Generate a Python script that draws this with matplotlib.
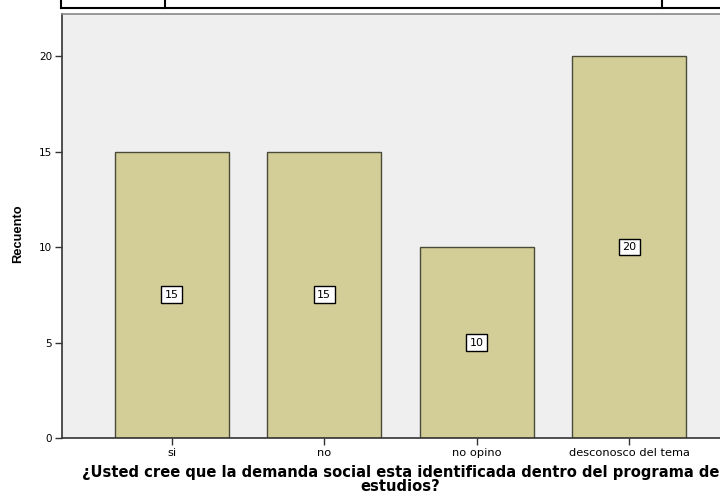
import matplotlib
matplotlib.use("Agg")
import matplotlib.pyplot as plt
from matplotlib.lines import Line2D

categories = ["si", "no", "no opino", "desconosco del tema"]
counts = [15, 15, 10, 20]
yticks = [0, 5, 10, 15, 20]

plt.rcParams['font.family'] = ['DejaVu Sans']

W, H = 720, 497
fig = plt.figure(figsize=(7.2, 4.97), dpi=100)
fig.patch.set_facecolor('white')

x0, x1 = 62, 739
ytop, ybot = 14, 438
ax = fig.add_axes([x0 / W, 1 - ybot / H, (x1 - x0) / W, (ybot - ytop) / H])
ax.set_facecolor('#EFEFEF')

pos = list(range(len(categories)))
ax.bar(pos, counts, width=0.75, color='#D3CE97', edgecolor='#4A4A3A', linewidth=1.0, zorder=2)
for p, c in zip(pos, counts):
    ax.text(p, c / 2, str(c), ha='center', va='center', fontsize=8, zorder=3,
            bbox=dict(boxstyle='square,pad=0.3', facecolor='white', edgecolor='black', linewidth=1.0))

ax.set_xlim(-0.72, len(categories) - 1 + 0.72)
ax.set_ylim(0, 22.2)
ax.set_yticks(yticks)
ax.set_yticklabels([str(v) for v in yticks], fontsize=7.5)
ax.set_xticks(pos)
ax.set_xticklabels(categories, fontsize=8.2)
ax.tick_params(axis='y', length=5, width=1, color='#333333', pad=2)
ax.tick_params(axis='x', length=5, width=1, color='#333333', pad=2)

for s in ['left', 'bottom']:
    ax.spines[s].set_color('#333333')
    ax.spines[s].set_linewidth(1.2)
for s in ['top', 'right']:
    ax.spines[s].set_color('#888888')
    ax.spines[s].set_linewidth(1.2)

ax.set_ylabel('Recuento', fontsize=9.3, fontweight='bold', family='Liberation Sans')
ax.yaxis.set_label_coords(-0.056, 0.483)
ax.set_xlabel('¿Usted cree que la demanda social esta identificada dentro del programa de\nestudios?',
              fontsize=10.6, fontweight='bold', labelpad=5, linespacing=0.95)

# decorative table lines at the top
def fl(xa, ya, xb, yb):
    fig.add_artist(Line2D([xa / W, xb / W], [1 - ya / H, 1 - yb / H], color='black', linewidth=1.5,
                          transform=fig.transFigure))

fl(61, 8, 720, 8)
fl(61, 0, 61, 8)
fl(165, 0, 165, 8)
fl(662, 0, 662, 8)

fig.savefig('out.png', dpi=100)
